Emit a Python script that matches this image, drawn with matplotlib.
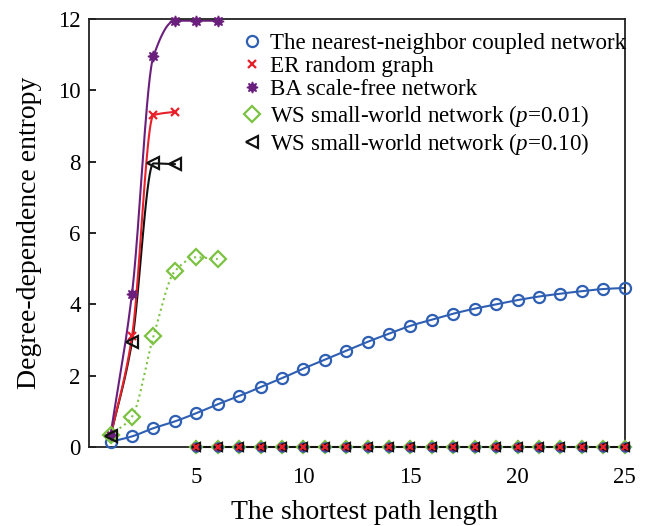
import numpy as np
import matplotlib
matplotlib.use("Agg")
import matplotlib.pyplot as plt

plt.rcParams['font.family'] = ['Liberation Serif', 'DejaVu Serif']
plt.rcParams['mathtext.fontset'] = 'custom'
plt.rcParams['mathtext.it'] = 'Liberation Serif:italic'
plt.rcParams['mathtext.rm'] = 'Liberation Serif'

# ---- data ----
nn_x = list(range(1, 26))
nn_y = [0.15, 0.30, 0.53, 0.72, 0.95, 1.20, 1.43, 1.68, 1.93, 2.20, 2.45, 2.70,
        2.95, 3.18, 3.40, 3.57, 3.74, 3.88, 4.00, 4.12, 4.22, 4.30, 4.37, 4.43, 4.46]

er_x = [1, 2, 3, 4]
er_y = [0.30, 3.10, 9.30, 9.40]

ba_x = [1, 2, 3, 4, 5, 6]
ba_y = [0.35, 4.30, 10.95, 11.95, 11.95, 11.95]

ws1_x = [1, 2, 3, 4, 5, 6]
ws1_y = [0.35, 0.85, 3.10, 4.93, 5.32, 5.27]

ws2_x = [1, 2, 3, 4]
ws2_y = [0.30, 2.95, 7.95, 7.93]

zero_x = list(range(5, 26))
zero_y = [0.0] * len(zero_x)

labels = ["The nearest-neighbor coupled network",
          "ER random graph",
          "BA scale-free network",
          r"WS small-world network ($\mathit{p}$=0.01)",
          r"WS small-world network ($\mathit{p}$=0.10)"]

c_blue = '#2f5fb3'
c_red = '#e8202a'
c_purple = '#6b1f7c'
c_green = '#7cc242'
c_black = '#111111'


def pchip(x, y, n=30):
    x = np.asarray(x, float); y = np.asarray(y, float)
    h = np.diff(x); d = np.diff(y) / h
    m = np.zeros_like(y)
    for k in range(1, len(x) - 1):
        if d[k - 1] * d[k] > 0:
            w1 = 2 * h[k] + h[k - 1]; w2 = h[k] + 2 * h[k - 1]
            m[k] = (w1 + w2) / (w1 / d[k - 1] + w2 / d[k])
    m[0] = d[0]; m[-1] = d[-1]
    xs, ys = [], []
    for k in range(len(x) - 1):
        t = np.linspace(0, 1, n, endpoint=False)
        h00 = 2*t**3 - 3*t**2 + 1; h10 = t**3 - 2*t**2 + t
        h01 = -2*t**3 + 3*t**2; h11 = t**3 - t**2
        xs.append(x[k] + t * h[k])
        ys.append(h00*y[k] + h10*h[k]*m[k] + h01*y[k+1] + h11*h[k]*m[k+1])
    xs.append([x[-1]]); ys.append([y[-1]])
    return np.concatenate(xs), np.concatenate(ys)


fig = plt.figure(figsize=(6.46, 5.26), dpi=100)
ax = fig.add_axes([0.138, 0.150, 0.829, 0.814])

ms = 8
mew = 1.6

# curves
for xs, ys, col, ls in [(nn_x, nn_y, c_blue, '-'), (ws1_x, ws1_y, c_green, ':'),
                        (ws2_x, ws2_y, c_black, '-'), (er_x, er_y, c_red, '-'),
                        (ba_x, ba_y, c_purple, '-')]:
    sx, sy = pchip(xs, ys)
    ax.plot(sx, sy, color=col, ls=ls, lw=1.5, zorder=2)

# zero row
zms = 6
ax.plot(zero_x, zero_y, color=c_black, lw=1.5, zorder=3, clip_on=False)
ax.plot(zero_x, zero_y, ls='none', marker='D', ms=zms, mfc='none', mec=c_green, mew=mew, zorder=4, clip_on=False)
ax.plot(zero_x, zero_y, ls='none', marker='o', ms=zms, mfc=c_blue, mec=c_blue, mew=mew, zorder=4, clip_on=False)
ax.plot(zero_x, zero_y, ls='none', marker=(8, 1, 0), ms=zms, color=c_purple, zorder=4, clip_on=False)
ax.plot(zero_x, zero_y, ls='none', marker='<', ms=zms, mfc='none', mec=c_black, mew=mew, zorder=5, clip_on=False)
ax.plot(zero_x, zero_y, ls='none', marker='x', ms=4, mec=c_red, mew=mew, zorder=6, clip_on=False)

# markers
ax.plot(nn_x, nn_y, ls='none', marker='o', ms=ms, mfc='none', mec=c_blue, mew=mew, label=labels[0], zorder=5, clip_on=False)
ax.plot(er_x, er_y, ls='none', marker='x', ms=6, mec=c_red, mew=mew, label=labels[1], zorder=5, clip_on=False)
ax.plot(ba_x, ba_y, ls='none', marker=(8, 1, 0), ms=ms, color=c_purple, label=labels[2], zorder=5, clip_on=False)
ax.plot(ws1_x, ws1_y, ls='none', marker='D', ms=ms, mfc='none', mec=c_green, mew=mew, label=labels[3], zorder=5, clip_on=False)
ax.plot(ws2_x, ws2_y, ls='none', marker='<', ms=ms, mfc='none', mec=c_black, mew=mew, label=labels[4], zorder=5, clip_on=False)

ax.set_xlim(0, 25)
ax.set_ylim(0, 12)
ax.set_xticks([5, 10, 15, 20, 25])
ax.set_yticks([0, 2, 4, 6, 8, 10, 12])
ax.tick_params(direction='in', labelsize=16.5, length=5, width=1.2)
ax.tick_params(axis='x', pad=14)
ax.tick_params(axis='y', pad=6)
for s in ax.spines.values():
    s.set_linewidth(1.3)
    s.set_color('#222222')

ax.set_xlabel("The shortest path length", fontsize=20, labelpad=9)
ax.xaxis.label.set_x(0.514)
ax.set_ylabel("Degree-dependence entropy", fontsize=20, labelpad=12)

leg = ax.legend(loc='upper right', frameon=False, fontsize=16.6, handletextpad=0.3,
                handlelength=1.0, labelspacing=0.1, borderaxespad=0.0,
                bbox_to_anchor=(1.02, 0.99))

fig.savefig("out.png", dpi=100)
